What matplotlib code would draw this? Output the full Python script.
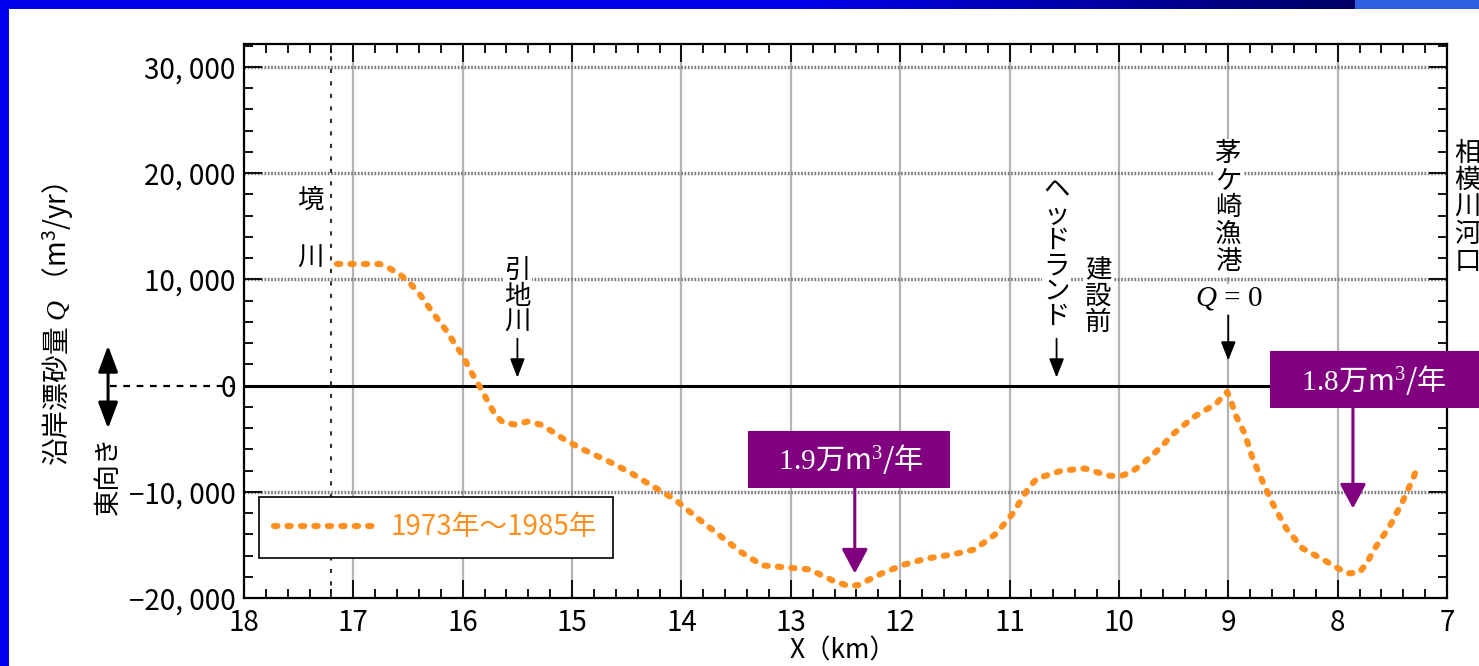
import numpy as np
import matplotlib
matplotlib.use("Agg")
import matplotlib.pyplot as plt
from matplotlib.patches import Rectangle
from matplotlib.ticker import MultipleLocator

plt.rcParams['font.family'] = ['Noto Sans CJK JP', 'DejaVu Sans']
plt.rcParams['mathtext.fontset'] = 'custom'
plt.rcParams['mathtext.rm'] = 'Liberation Serif'
plt.rcParams['mathtext.it'] = 'Liberation Serif:italic'
plt.rcParams['mathtext.sf'] = 'Noto Sans CJK JP'

# ---------------- data ----------------
x_km = [17.15, 16.95, 16.76, 16.68, 16.57, 16.47, 16.39, 16.32, 16.24, 16.15,
        16.08, 16.00, 15.93, 15.85, 15.76, 15.70, 15.63, 15.52, 15.41, 15.29,
        15.18, 15.07, 14.90, 14.68, 14.47, 14.26, 14.06, 13.85, 13.65, 13.45,
        13.26, 13.04, 12.83, 12.62, 12.49, 12.39, 12.17, 11.96, 11.75, 11.52,
        11.32, 11.12, 10.97, 10.83, 10.75, 10.52, 10.31, 10.10, 9.99, 9.88,
        9.78, 9.69, 9.61, 9.51, 9.40, 9.31, 9.20, 9.11, 9.01, 8.97,
        8.94, 8.85, 8.78, 8.69, 8.59, 8.47, 8.32, 8.12, 8.01, 7.91,
        7.80, 7.73, 7.66, 7.52, 7.41, 7.31, 7.27]
q_sand = [11450, 11450, 11450, 11100, 10440, 9500, 8560, 7530, 6400, 5170,
          4050, 2820, 1410, 0, -1690, -2820, -3480, -3670, -3390, -3670,
          -4330, -5080, -6020, -7060, -8180, -9500, -10720, -12510, -14110, -15710,
          -16930, -17120, -17310, -18340, -18810, -18810, -17690, -16840, -16270, -15900,
          -15430, -13920, -12040, -9690, -8750, -8000, -7810, -8470, -8560, -8090,
          -7340, -6490, -5740, -4610, -3670, -2920, -2260, -1690, -600, -1600,
          -2630, -4520, -6770, -8940, -11190, -13450, -15330, -16460, -17120, -17690,
          -17590, -16650, -15330, -13170, -11010, -8750, -7620]
series_label = "1973年～1985年"

x_ticks = [18, 17, 16, 15, 14, 13, 12, 11, 10, 9, 8, 7]
x_tick_labels = [str(v) for v in x_ticks]
y_ticks = [-20000, -10000, 0, 10000, 20000, 30000]
y_tick_labels = ["−20, 000", "−10, 000", "0", "10, 000", "20, 000", "30, 000"]

boundary_x = 17.2          # 境川 position
min_labels = ["1.9", "1.8"]
min_label_x = [12.47, 7.60]
min_arrow_x = [12.415, 7.86]
min_label_pad = [("   ", "   "), ("   ", "      ")]

ORANGE = '#FF8F1F'
PURPLE = '#800080'

# ---------------- figure ----------------
fig = plt.figure(figsize=(14.79, 6.66), dpi=100)
fig.patch.set_facecolor('white')

W, H = 1479, 666
ax = fig.add_axes([244 / W, (H - 598) / H, (1447 - 244) / W, (598 - 44) / H])
ax.set_xlim(18, 7)
ax.set_ylim(-20000, 32160)

# grid
for xv in x_ticks[1:-1]:
    ax.axvline(xv, color='#b4b4b4', lw=1.6, zorder=1)
for yv in [-10000, 10000, 20000, 30000]:
    ax.axhline(yv, color='#7a7a7a', lw=2.4, ls=(0, (0.5, 0.5)), zorder=1)
ax.axhline(0, color='black', lw=2.2, zorder=2)
ax.axvline(boundary_x, color='#333333', lw=1.5, ls=(0, (2, 4)), zorder=2)

# series
ax.plot(x_km, q_sand, color=ORANGE, lw=4.4, ls=(0, (0.55, 1.65)),
        dash_capstyle='round', solid_capstyle='round', zorder=4, label=series_label)

# axes styling
ax.set_xticks(x_ticks)
ax.set_xticklabels(x_tick_labels)
ax.set_yticks(y_ticks)
ax.set_yticklabels(y_tick_labels)
ax.xaxis.set_minor_locator(MultipleLocator(0.2))
ax.yaxis.set_minor_locator(MultipleLocator(2000))
ax.tick_params(which='both', direction='in', top=True, right=True, width=1.3, colors='black')
ax.tick_params(which='major', length=13, labelsize=20)
ax.tick_params(axis='x', which='major', pad=7)
ax.tick_params(axis='y', which='major', pad=6)
ax.tick_params(which='minor', length=6.5)
for s in ax.spines.values():
    s.set_linewidth(1.6)

# legend
leg = ax.legend(loc='upper left', bbox_to_anchor=(0.0125, 0.182), borderaxespad=0,
                fontsize=20, labelcolor=ORANGE, fancybox=False, framealpha=1,
                edgecolor='black', handlelength=3.6, handletextpad=0.6,
                borderpad=0.55)
leg.get_frame().set_linewidth(1.2)

# axis labels
ax.text(-0.155, 5800, "沿岸漂砂量 $\\mathit{Q}$ （m$^{\\mathsf{3}}$/yr）",
        transform=ax.get_yaxis_transform(), rotation=90, ha='center', va='center',
        fontsize=20)
fig.text(843 / W, (H - 651) / H, "X（km）", ha='center', va='center', fontsize=19)

# left direction arrow
ax.annotate("", xy=(-0.113, 3760), xytext=(-0.113, -4050),
            xycoords=ax.get_yaxis_transform(), textcoords=ax.get_yaxis_transform(),
            arrowprops=dict(arrowstyle='<|-|>,head_length=1.6,head_width=0.6',
                            color='black', lw=2.2, mutation_scale=10,
                            shrinkA=0, shrinkB=0), annotation_clip=False)
ax.plot([-0.1114, -0.0075], [0, 0], transform=ax.get_yaxis_transform(),
        color='black', lw=1.6, ls=(0, (3, 3)), clip_on=False)
ax.text(-0.113, -8470, "東向き", transform=ax.get_yaxis_transform(), rotation=90,
        ha='center', va='center', fontsize=19)

# vertical text labels
def vtext(x, y_top, s, step=1.0, size=19, box=False, **kw):
    t = ax.text(x, y_top, "\n".join(s), ha='center', va='top', fontsize=size,
                linespacing=step, zorder=5, **kw)
    if box:
        t.set_bbox(dict(facecolor='white', edgecolor='none', pad=1))
    return t

ax.text(17.39, 17400, "境", ha='center', va='center', fontsize=19, zorder=5)
ax.text(17.39, 11950, "川", ha='center', va='center', fontsize=19, zorder=5,
        bbox=dict(facecolor='white', edgecolor='none', pad=1))
vtext(15.50, 12100, "引地川", step=0.95, box=True)
vtext(10.57, 19700, "ヘッドランド", step=0.92, box=True)
vtext(10.19, 12100, "建設前", step=0.95, box=True)
vtext(9.00, 23100, "茅ケ崎漁港", step=1.0, box=True)
ax.text(9.00, 8180, "$\\mathit{Q}$ = 0", ha='center', va='center', fontsize=21,
        family='Liberation Serif', zorder=5,
        bbox=dict(facecolor='white', edgecolor='none', pad=1))
vtext(6.81, 23100, "相模川河口", step=1.0, clip_on=False)

# black arrows
for xa, y0, y1 in [(15.50, 4420, 750), (10.57, 4420, 750), (9.00, 6590, 2350)]:
    ax.annotate("", xy=(xa, y1), xytext=(xa, y0),
                arrowprops=dict(arrowstyle='-|>,head_length=1.15,head_width=0.45',
                                color='black', lw=1.3, mutation_scale=10,
                                shrinkA=0, shrinkB=0))

# purple boxes and arrows
box_y = [-6960, 570]
arrow_top = [-9590, -2160]
arrow_tip = [-17690, -11570]
for lab, bx, by, axx, y0, y1, (pl, pr) in zip(min_labels, min_label_x, box_y,
                                              min_arrow_x, arrow_top, arrow_tip,
                                              min_label_pad):
    ax.annotate("", xy=(axx, y1), xytext=(axx, y0),
                arrowprops=dict(arrowstyle='-|>,head_length=1.5,head_width=0.8',
                                color=PURPLE, lw=2.2, mutation_scale=10,
                                shrinkA=0, shrinkB=0), zorder=6)
    ax.text(bx, by, pl + "$\\mathrm{" + lab + "}$万m$^{\\mathrm{3}}$/年" + pr,
            ha='center', va='center', fontsize=21, color='white', zorder=7,
            clip_on=False,
            bbox=dict(boxstyle='square,pad=0.4', facecolor=PURPLE, edgecolor='none'))

# blue frame
band = fig.add_axes([0, 1 - 9 / H, 1, 9 / H])
xs = np.arange(W)
r = np.zeros(W); g = np.zeros(W); b = np.zeros(W)
for i in xs:
    if i < 800:
        b[i] = 235
    elif i < 1355:
        f = (i - 800) / 555
        b[i] = 235 - f * 135
    else:
        r[i], g[i], b[i] = 45, 95, 225
img = np.stack([r, g, b], axis=-1)[None, :, :] / 255.0
band.imshow(img, aspect='auto', extent=(0, W, 0, 1))
band.axis('off')
fig.patches.append(Rectangle((0, 0), 9 / W, 1, transform=fig.transFigure,
                             facecolor='#0000EE', edgecolor='none', zorder=10))

fig.savefig("out.png", dpi=100)
